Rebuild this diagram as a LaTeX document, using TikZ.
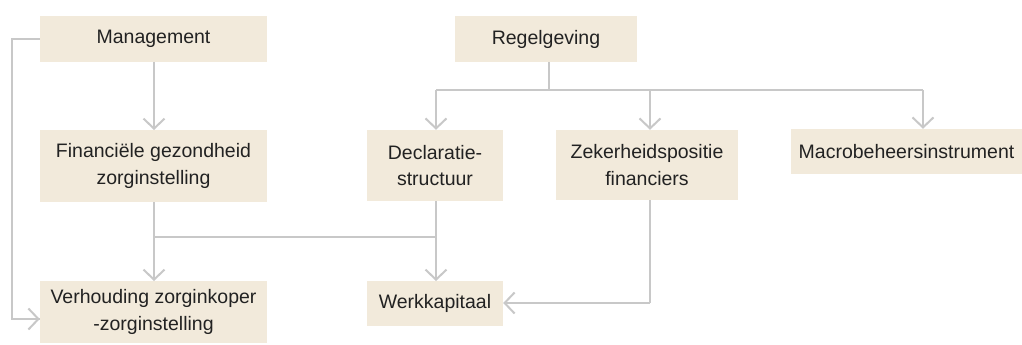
\documentclass[tikz,border=0pt]{standalone}
\usepackage{fontspec}
\setmainfont{Liberation Sans}
\usetikzlibrary{arrows.meta}
\definecolor{boxfill}{HTML}{F2EADB}
\definecolor{linegray}{HTML}{C8C8C8}
\definecolor{txt}{HTML}{222222}
\begin{document}
\begin{tikzpicture}[x=1pt,y=-1pt,
  box/.style={fill=boxfill,draw=none,inner sep=0pt,align=center,text=txt,
    font=\fontsize{19.5}{26.5}\selectfont},
  conn/.style={draw=linegray,line width=2pt},
  arr/.style={conn,-{Straight Barb[length=10pt,width=21pt,line width=2pt]}}]
\useasboundingbox (0,0) rectangle (1022,345);
\node[box,minimum width=227pt,minimum height=46pt] (mgmt) at (153.5,39) {Management};
\node[box,minimum width=227pt,minimum height=72pt] (fin) at (153.5,166) {Financiële gezondheid\\zorginstelling};
\node[box,minimum width=227pt,minimum height=62pt] (verh) at (153.5,312) {Verhouding zorginkoper\\-zorginstelling};
\node[box,minimum width=182pt,minimum height=46pt] (regel) at (546,39) {Regelgeving};
\node[box,minimum width=136pt,minimum height=71pt] (decl) at (435,165.5) {Declaratie-\\structuur};
\node[box,minimum width=182pt,minimum height=70pt] (zek) at (647,165) {Zekerheidspositie\\financiers};
\node[box,minimum width=231pt,minimum height=45pt] (macro) at (906.5,151.5) {Macrobeheersinstrument};
\node[box,minimum width=136pt,minimum height=45pt] (werk) at (435,303.5) {Werkkapitaal};
% coordinates
\coordinate (rj) at (549,90);
\coordinate (bl) at (436,90);
\coordinate (bm) at (650,90);
\coordinate (br) at (923,90);
\coordinate (jl) at (154,237);
\coordinate (jr) at (436,237);
\coordinate (lt) at (12,39);
\coordinate (zb) at (650,303);
% connectors
\draw[arr] (154,62) -- (154,130);
\draw[conn] (mgmt.west) -- (lt) |- (verh.west |- 0,319) ;
\draw[arr] (lt |- 0,319) -- (verh.west |- 0,319);
\draw[arr] (154,202) -- (154,281);
\draw[conn] (jl) -- (jr);
\draw[arr] (436,201) -- (436,281);
\draw[conn] (regel.south -| rj) -- (rj);
\draw[conn] (bl) -- (br);
\draw[arr] (bl) -- (bl |- decl.north);
\draw[arr] (bm) -- (bm |- zek.north);
\draw[arr] (br) -- (br |- macro.north);
\draw[conn] (bm |- zek.south) -- (zb);
\draw[arr] (zb) -- (werk.east |- zb);
\end{tikzpicture}
\end{document}
